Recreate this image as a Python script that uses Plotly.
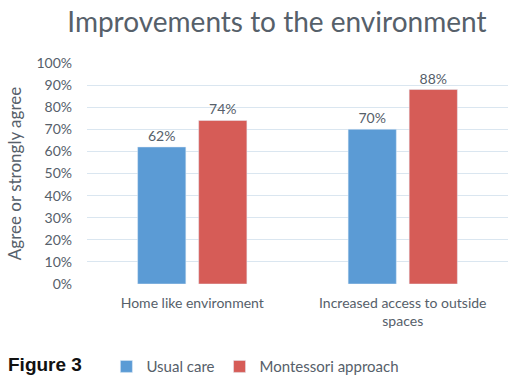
import plotly.graph_objects as go

categories = ["Home like environment", "Increased access to outside<br>spaces"]
usual_care = [62, 70]
montessori = [74, 88]
tick_vals = [0, 10, 20, 30, 40, 50, 60, 70, 80, 90, 100]
tick_text = [f"{v}%" for v in tick_vals]

font_family = "Lato, Open Sans, sans-serif"
grey = "#56606A"

fig = go.Figure()
fig.add_trace(go.Bar(name="Usual care", x=categories, y=usual_care,
                     marker_color="#5B9BD5",
                     text=[f"{v}%" for v in usual_care], textposition="outside",
                     textfont=dict(color=grey, size=14), cliponaxis=False))
fig.add_trace(go.Bar(name="Montessori approach", x=categories, y=montessori,
                     marker_color="#D65C57",
                     text=[f"{v}%" for v in montessori], textposition="outside",
                     textfont=dict(color=grey, size=14), cliponaxis=False))

fig.update_layout(
    width=508, height=378,
    margin=dict(l=87, r=0, t=63, b=94, autoexpand=False),
    paper_bgcolor="white", plot_bgcolor="white",
    font=dict(family=font_family, color=grey, size=13),
    title=dict(text="Improvements to the environment", x=0.545, xanchor="center",
               y=0.942, yanchor="middle", font=dict(size=28, color=grey)),
    barmode="group", bargap=0.42, bargroupgap=0.21,
    legend=dict(orientation="h", x=0.40, xanchor="center",
                yref="container", y=0.03, yanchor="middle",
                font=dict(size=15, color=grey), itemwidth=30, traceorder="normal"),
    xaxis=dict(showline=False, ticks="", tickfont=dict(size=14, color=grey),
               ticklabelstandoff=9),
    yaxis=dict(range=[0, 100], tickvals=tick_vals, ticktext=tick_text,
               showgrid=True, gridcolor="#DAE6F0", gridwidth=1, zeroline=False,
               tickfont=dict(size=14, color=grey), ticklabelstandoff=14,
               title=dict(text="Agree or strongly agree", font=dict(size=17, color=grey), standoff=10)),
    showlegend=True,
)
fig.add_annotation(text="<b>Figure 3</b>", xref="paper", yref="paper", x=-0.192, y=-0.365,
                   xanchor="left", yanchor="middle", showarrow=False,
                   font=dict(family="Liberation Sans, Arial, sans-serif", size=19, color="#111111"))
fig.write_html("out.html")
